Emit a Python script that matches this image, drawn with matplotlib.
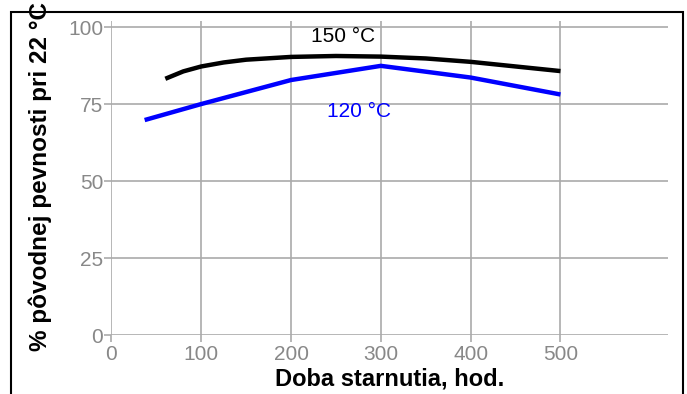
import matplotlib
matplotlib.use("Agg")
import matplotlib.pyplot as plt
from matplotlib.patches import Rectangle

plt.rcParams['font.family'] = ['Liberation Sans', 'DejaVu Sans']

# Dáta odčítané z grafu
hod_150 = [60, 80, 100, 125, 150, 200, 250, 300, 350, 400, 450, 500]
pev_150 = [83.2, 85.6, 87.2, 88.5, 89.4, 90.3, 90.6, 90.4, 89.8, 88.7, 87.2, 85.7]
hod_120 = [37, 100, 200, 300, 400, 500]
pev_120 = [69.8, 75.0, 82.8, 87.4, 83.6, 78.1]

x_ticks = [0, 100, 200, 300, 400, 500]
y_ticks = [0, 25, 50, 75, 100]

GRID = "#aaaaaa"
TICKTXT = "#888888"

fig = plt.figure(figsize=(6.87, 3.94), dpi=100)
ax = fig.add_axes([0.1622, 0.1497, 0.8105, 0.7973])

# rámček okolo celého obrázka
fig.patches.append(Rectangle((11 / 687, -0.05), 672 / 687, 1.05 - 12 / 394,
                             transform=fig.transFigure, fill=False,
                             edgecolor="black", linewidth=1.5, zorder=0))

ax.plot(hod_150, pev_150, color="black", linewidth=3.2, solid_capstyle="butt")
ax.plot(hod_120, pev_120, color="#0000ff", linewidth=3.2, solid_capstyle="butt")

ax.text(258, 96.8, "150 °C", color="black", fontsize=15, ha="center", va="center")
ax.text(276, 72.7, "120 °C", color="#0000ff", fontsize=15, ha="center", va="center")

ax.set_xlim(0, 620)
ax.set_ylim(0, 102)
ax.set_xticks(x_ticks)
ax.set_yticks(y_ticks)
ax.grid(True, color=GRID, linewidth=1.2)
ax.set_axisbelow(True)
for s in ax.spines.values():
    s.set_visible(False)
ax.tick_params(axis="both", length=5, width=1.2, color=GRID,
               labelcolor=TICKTXT, labelsize=15, pad=1)
ax.tick_params(axis="x", pad=2.5)

ax.set_xlabel("Doba starnutia, hod.", fontsize=17, fontweight="bold", labelpad=2)
fig.text(40 / 687, 0.553, "% pôvodnej pevnosti pri 22 °C", rotation=90,
         fontsize=17.5, fontweight="bold", ha="center", va="center")

fig.savefig("out.png", dpi=100)
